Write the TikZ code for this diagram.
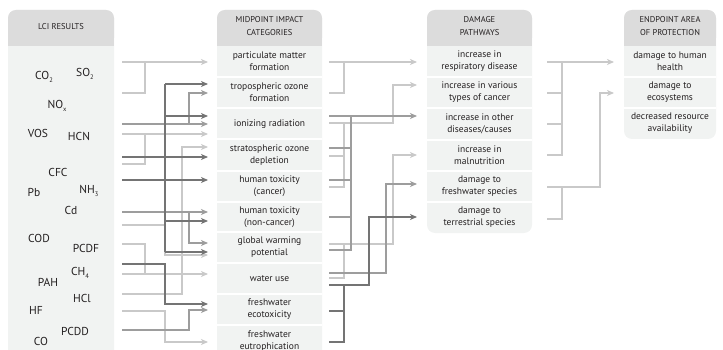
\documentclass[tikz,border=0pt]{standalone}
\usepackage{fontspec}
\setmainfont{PT Sans}
\usetikzlibrary{arrows.meta}
\definecolor{colhdr}{HTML}{DCDCDC}
\definecolor{colbody}{HTML}{F1F3F2}
\definecolor{ink}{HTML}{231F20}
\definecolor{lt}{HTML}{C9C9C9}
\definecolor{md}{HTML}{9D9D9D}
\definecolor{dk}{HTML}{747474}
% small, low subscript for the substance formulas
\newcommand{\chemsub}[1]{\raisebox{-3pt}{\fontsize{6.5}{7}\selectfont #1}}
\begin{document}
\begin{tikzpicture}[x=1pt,y=-1pt,
  wire/.style={line width=1.5pt},
  ltw/.style={wire,draw=lt},
  mdw/.style={wire,draw=md},
  dkw/.style={wire,draw=dk},
  tip/.style={-{Stealth[length=7pt,width=6pt,inset=2pt]}},
  hdrtxt/.style={font=\fontsize{8.5}{13}\selectfont,align=center,text=ink,inner sep=0pt},
  rowtxt/.style={font=\fontsize{9.5}{12}\selectfont,align=center,text=ink,inner sep=0pt},
  chem/.style={font=\fontsize{11.5}{13}\selectfont,text=ink,inner sep=0pt},
  sep/.style={draw=white,line width=1.3pt}]
\useasboundingbox (0,0) rectangle (723,350);
\clip (0,0) rectangle (723,350);

% ---- column backgrounds ----
% LCI results
\fill[colbody,rounded corners=8pt] (8,10) rectangle (114,380);
\fill[colhdr,rounded corners=8pt] (8,10) rectangle (114,46);
\fill[colhdr] (8,30) rectangle (114,46);
% midpoint impact categories
\fill[colbody,rounded corners=8pt] (217,10) rectangle (322,380);
\fill[colhdr,rounded corners=8pt] (217,10) rectangle (322,46);
\fill[colhdr] (217,30) rectangle (322,46);
\foreach \y in {77,108,139,171,202,232,263,294,325}
  \draw[sep] (217,\y) -- (322,\y);
% damage pathways
\fill[colbody,rounded corners=8pt] (427,10) rectangle (532,233);
\fill[colhdr,rounded corners=8pt] (427,10) rectangle (532,46);
\fill[colhdr] (427,30) rectangle (532,46);
\foreach \y in {77,108,140,171,202}
  \draw[sep] (427,\y) -- (532,\y);
% endpoint area of protection
\fill[colbody,rounded corners=8pt] (624,10) rectangle (716,139);
\fill[colhdr,rounded corners=8pt] (624,10) rectangle (716,46);
\fill[colhdr] (624,30) rectangle (716,46);
\foreach \y in {77,108}
  \draw[sep] (624,\y) -- (716,\y);

% ---- headers ----
\node[hdrtxt] (hlci) at (61,26.5) {LCI RESULTS};
\node[hdrtxt] (hmid) at (269.5,26.5) {MIDPOINT IMPACT\\CATEGORIES};
\node[hdrtxt] (hdmg) at (479.5,26.5) {DAMAGE\\PATHWAYS};
\node[hdrtxt] (hend) at (670,26.5) {ENDPOINT AREA\\OF PROTECTION};

% ---- LCI substances ----
\node[chem] (co2)  at (44,77)  {CO\chemsub{2}};
\node[chem] (so2)  at (85,74)  {SO\chemsub{2}};
\node[chem] (nox)  at (57,106) {NO\chemsub{x}};
\node[chem] (vos)  at (38,133) {VOS};
\node[chem] (hcn)  at (79,136) {HCN};
\node[chem] (cfc)  at (58,172) {CFC};
\node[chem] (pb)   at (34,192) {Pb};
\node[chem] (nh3)  at (89,191) {NH\chemsub{3}};
\node[chem] (cd)   at (71,210) {Cd};
\node[chem] (cod)  at (39,238) {COD};
\node[chem] (pcdf) at (86,248) {PCDF};
\node[chem] (ch4)  at (80,273) {CH\chemsub{4}};
\node[chem] (pah)  at (48,282) {PAH};
\node[chem] (hcl)  at (82,298) {HCl};
\node[chem] (hf)   at (36,310) {HF};
\node[chem] (pcdd) at (75,331) {PCDD};
\node[chem] (co)   at (41,341) {CO};

% ---- midpoint categories ----
\node[rowtxt] (m1)  at (269.5,61.5)  {particulate matter\\formation};
\node[rowtxt] (m2)  at (269.5,92.5)  {tropospheric ozone\\formation};
\node[rowtxt] (m3)  at (269.5,124)   {ionizing radiation};
\node[rowtxt] (m4)  at (269.5,155)   {stratospheric ozone\\depletion};
\node[rowtxt] (m5)  at (269.5,186.5) {human toxicity\\(cancer)};
\node[rowtxt] (m6)  at (269.5,217)   {human toxicity\\(non-cancer)};
\node[rowtxt] (m7)  at (269.5,247.5) {global warming\\potential};
\node[rowtxt] (m8)  at (269.5,279)   {water use};
\node[rowtxt] (m9)  at (269.5,309.5) {freshwater\\ecotoxicity};
\node[rowtxt] (m10) at (269.5,341)   {freshwater\\eutrophication};

% ---- damage pathways ----
\node[rowtxt] (d1) at (479.5,61.5)  {increase in\\respiratory disease};
\node[rowtxt] (d2) at (479.5,92.5)  {increase in various\\types of cancer};
\node[rowtxt] (d3) at (479.5,124)   {increase in other\\diseases/causes};
\node[rowtxt] (d4) at (479.5,155.5) {increase in\\malnutrition};
\node[rowtxt] (d5) at (479.5,186.5) {damage to\\freshwater species};
\node[rowtxt] (d6) at (479.5,217.5) {damage to\\terrestrial species};

% ---- endpoints ----
\node[rowtxt] (e1) at (670,61.5)  {damage to human\\health};
\node[rowtxt] (e2) at (670,92.5)  {damage to\\ecosystems};
\node[rowtxt] (e3) at (670,123.5) {decreased resource\\availability};

% ---- connector anchor points ----
\foreach \y in {62,93,124,134,157,164,180,212,225,244,264,274,294,311,330}
  \coordinate (a\y) at (122,\y);
\foreach \y in {62,84,93,116,124,134,147,157,180,212,221,243,252,255,274,304,310,342}
  \coordinate (p\y) at (208,\y);
\foreach \y in {62,93,116,123,148,156,180,187,217,244,250,273,278,285,311,342}
  \coordinate (b\y) at (329,\y);
\foreach \y in {62,85,116,155,184,217}
  \coordinate (q\y) at (417,\y);
\foreach \y in {62,93,124,155,187,219}
  \coordinate (c\y) at (547,\y);
\foreach \y in {62,93}
  \coordinate (r\y) at (614,\y);
% vertical bus positions
\coordinate (xa) at (145,0); \coordinate (xb) at (165,0);
\coordinate (xc) at (182,0); \coordinate (xd) at (189,0);
\coordinate (xe) at (344,0); \coordinate (xf) at (351,0);
\coordinate (xg) at (369,0); \coordinate (xh) at (386,0);
\coordinate (xi) at (393,0); \coordinate (xj) at (562,0);
\coordinate (xk) at (600,0);

% ---- LCI -> midpoint ----
% light
\draw[ltw,tip] (a62) -- (p62);
\draw[ltw] (a93) -| (p62 -| xa);
\draw[ltw,tip] (a134) -- (p134);
\draw[ltw] (a164) -| (p134 -| xa);
\draw[ltw,tip] (a294) -| (p147 -| xc) -- (p147);
\draw[ltw,tip] (a225) -| (p255 -| xb) -- (p255);
\draw[ltw,tip] (a274) -- (p274);
\draw[ltw] (a244) -| (p274 -| xa);
\draw[ltw,tip] (a311) -| (p342 -| xb) -- (p342);
% medium
\draw[mdw,tip] (a124) -- (p124);
\draw[mdw,tip] (a124 -| xd) |- (p93);
\draw[mdw,tip] (a212) -- (p212);
\draw[mdw,tip] (a212 -| xd) |- (p243);
\draw[mdw,tip] (a330) -| (p310 -| xd) -- (p310);
% dark
\draw[dkw] (p84 -| xb) -- (p252 -| xb);
\draw[dkw,tip] (p84 -| xb) -- (p84);
\draw[dkw,tip] (p116 -| xb) -- (p116);
\draw[dkw,tip] (a157) -- (p157);
\draw[dkw,tip] (a180) -- (p180);
\draw[dkw,tip] (p221 -| xb) -- (p221);
\draw[dkw,tip] (p252 -| xb) -- (p252);
\draw[dkw,tip] (a264) -| (p304 -| xb) -- (p304);

% ---- midpoint -> damage ----
% light
\draw[ltw,tip] (b62) -- (q62);
\draw[ltw] (b93) -| (q62 -| xe);
\draw[ltw,tip] (b123) -| (q85 -| xi) -- (q85);
\draw[ltw] (b187) -| (b123 -| xe);
\draw[ltw] (b156) -- (b156 -| xe);
\draw[ltw,tip] (b244) -| (q155 -| xi) -- (q155);
\draw[ltw] (b278) -| (b244 -| xe);
% medium
\draw[mdw,tip] (b116) -- (q116);
\draw[mdw] (b250) -| (b116 -| xf);
\foreach \y in {148,180,217} \draw[mdw] (b\y) -- (b\y -| xf);
\draw[mdw,tip] (b273) -| (q184 -| xh) -- (q184);
% dark
\draw[dkw,tip] (b285) -| (q217 -| xg) -- (q217);
\draw[dkw] (b342) -| (b285 -| xe);
\draw[dkw] (b311) -- (b311 -| xe);

% ---- damage -> endpoint ----
\draw[ltw,tip] (c62) -- (r62);
\draw[ltw] (c155) -| (c62 -| xj);
\draw[ltw] (c93) -- (c93 -| xj);
\draw[ltw] (c124) -- (c124 -| xj);
\draw[ltw,tip] (c187) -| (r93 -| xk) -- (r93);
\draw[ltw] (c219) -| (c187 -| xj);
\end{tikzpicture}
\end{document}
